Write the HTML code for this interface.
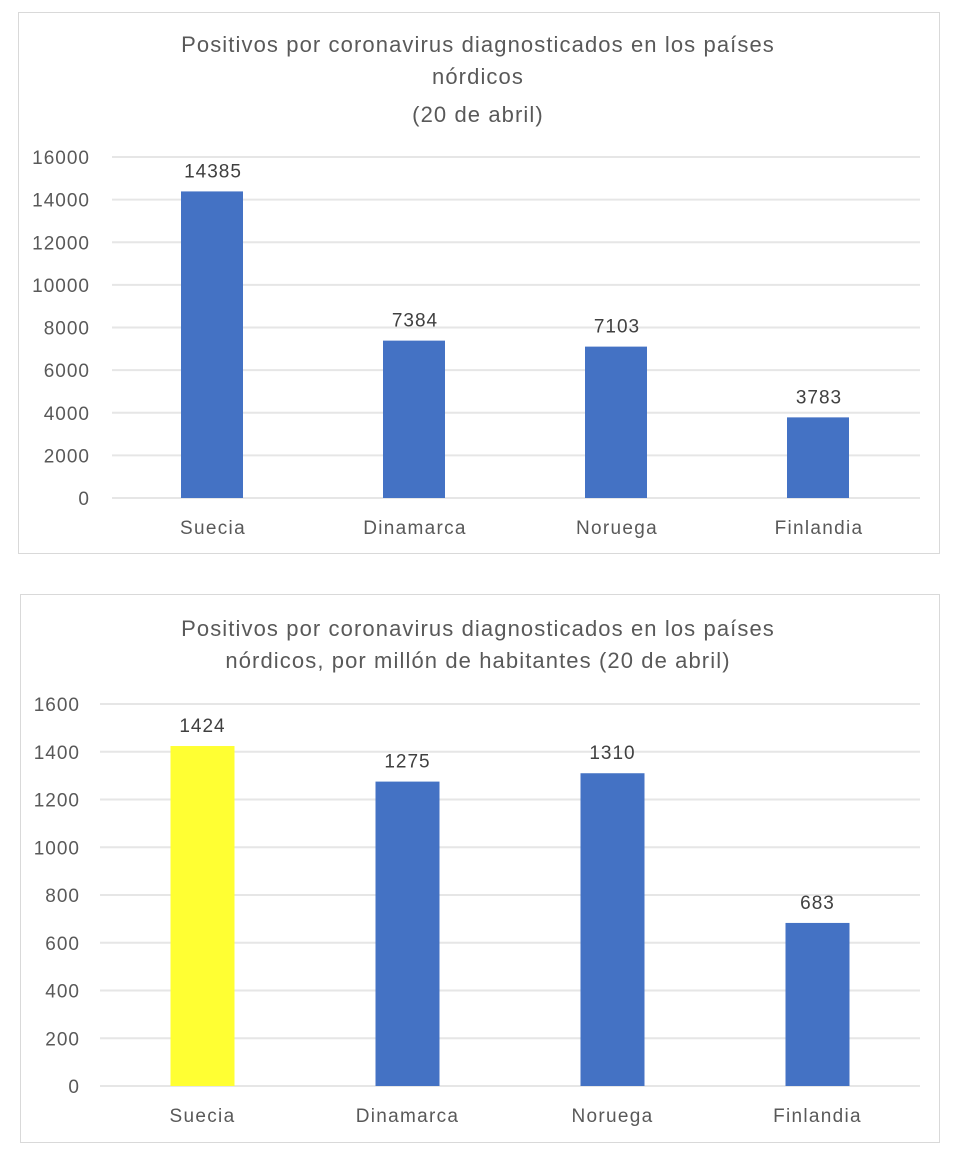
<!DOCTYPE html>
<html><head><meta charset="utf-8"><style>
body{margin:0;background:#fff;width:962px;height:1160px;overflow:hidden}
svg{display:block;font-family:"Liberation Sans",sans-serif}
</style></head><body>
<svg id="s" width="962" height="1160">
<rect x="18.5" y="12.5" width="921" height="541" fill="#fff" stroke="#d9d9d9"/>
<rect x="20.5" y="594.5" width="919" height="548" fill="#fff" stroke="#d9d9d9"/>
<text x="478" y="52" text-anchor="middle" font-size="22" letter-spacing="1.1" fill="#595959"><tspan x="478">Positivos por coronavirus diagnosticados en los países</tspan><tspan x="478" dy="32">nórdicos</tspan><tspan x="478" dy="38">(20 de abril)</tspan></text>
<text x="478" y="636" text-anchor="middle" font-size="22" letter-spacing="1.1" fill="#595959"><tspan x="478">Positivos por coronavirus diagnosticados en los países</tspan><tspan x="478" dy="32">nórdicos, por millón de habitantes (20 de abril)</tspan></text>
<g id="c1"></g><g id="c2"></g>
</svg>
<script>
const categories=["Suecia","Dinamarca","Noruega","Finlandia"];
const values1=[14385,7384,7103,3783];
const ticks1=[0,2000,4000,6000,8000,10000,12000,14000,16000];
const values2=[1424,1275,1310,683];
const ticks2=[0,200,400,600,800,1000,1200,1400,1600];
const colors2=["#ffff33","#4472c4","#4472c4","#4472c4"];
const NS="http://www.w3.org/2000/svg";
function mk(g,t,a){const e=document.createElementNS(NS,t);for(const k in a)e.setAttribute(k,a[k]);g.appendChild(e);return e;}
function draw(g,vals,ticks,cfg,cols){
  const max=ticks[ticks.length-1];
  const y=v=>cfg.y0-(cfg.y0-cfg.y1)*v/max;
  const bw=(cfg.x1-cfg.x0)/vals.length;
  const x=i=>cfg.x0+bw*(i+0.5);
  ticks.forEach(t=>{
    const l=mk(g,"line",{x1:cfg.x0,x2:cfg.x1,y1:y(t),y2:y(t),stroke:"#e6e6e6","stroke-width":2});
    
    
    const tx=mk(g,"text",{x:cfg.lx,y:y(t)+7,"text-anchor":"end","font-size":19,"letter-spacing":1,fill:"#595959"});
    tx.textContent=t;
    
    
  });
  vals.forEach((v,i)=>{
    const r=mk(g,"rect",{x:x(i)-cfg.bar/2+cfg.off,y:y(v),width:cfg.bar,height:y(0)-y(v),fill:cols[i]});
    
    
    const vl=mk(g,"text",{x:x(i),y:y(v)-14,"text-anchor":"middle","font-size":19,"letter-spacing":1,fill:"#404040"});
    vl.textContent=v;
    
    
    const cl=mk(g,"text",{x:x(i),y:cfg.y0+36,"text-anchor":"middle","font-size":19,"letter-spacing":1.3,fill:"#595959"});
    cl.textContent=categories[i];
    
    
  });
}
draw(document.getElementById("c1"),values1,ticks1,{x0:112,x1:920,y0:498,y1:157,bar:62,lx:90,off:-1},["#4472c4","#4472c4","#4472c4","#4472c4"]);
draw(document.getElementById("c2"),values2,ticks2,{x0:100,x1:920,y0:1086,y1:704,bar:64,lx:80,off:0},colors2);
</script>
</body></html>
